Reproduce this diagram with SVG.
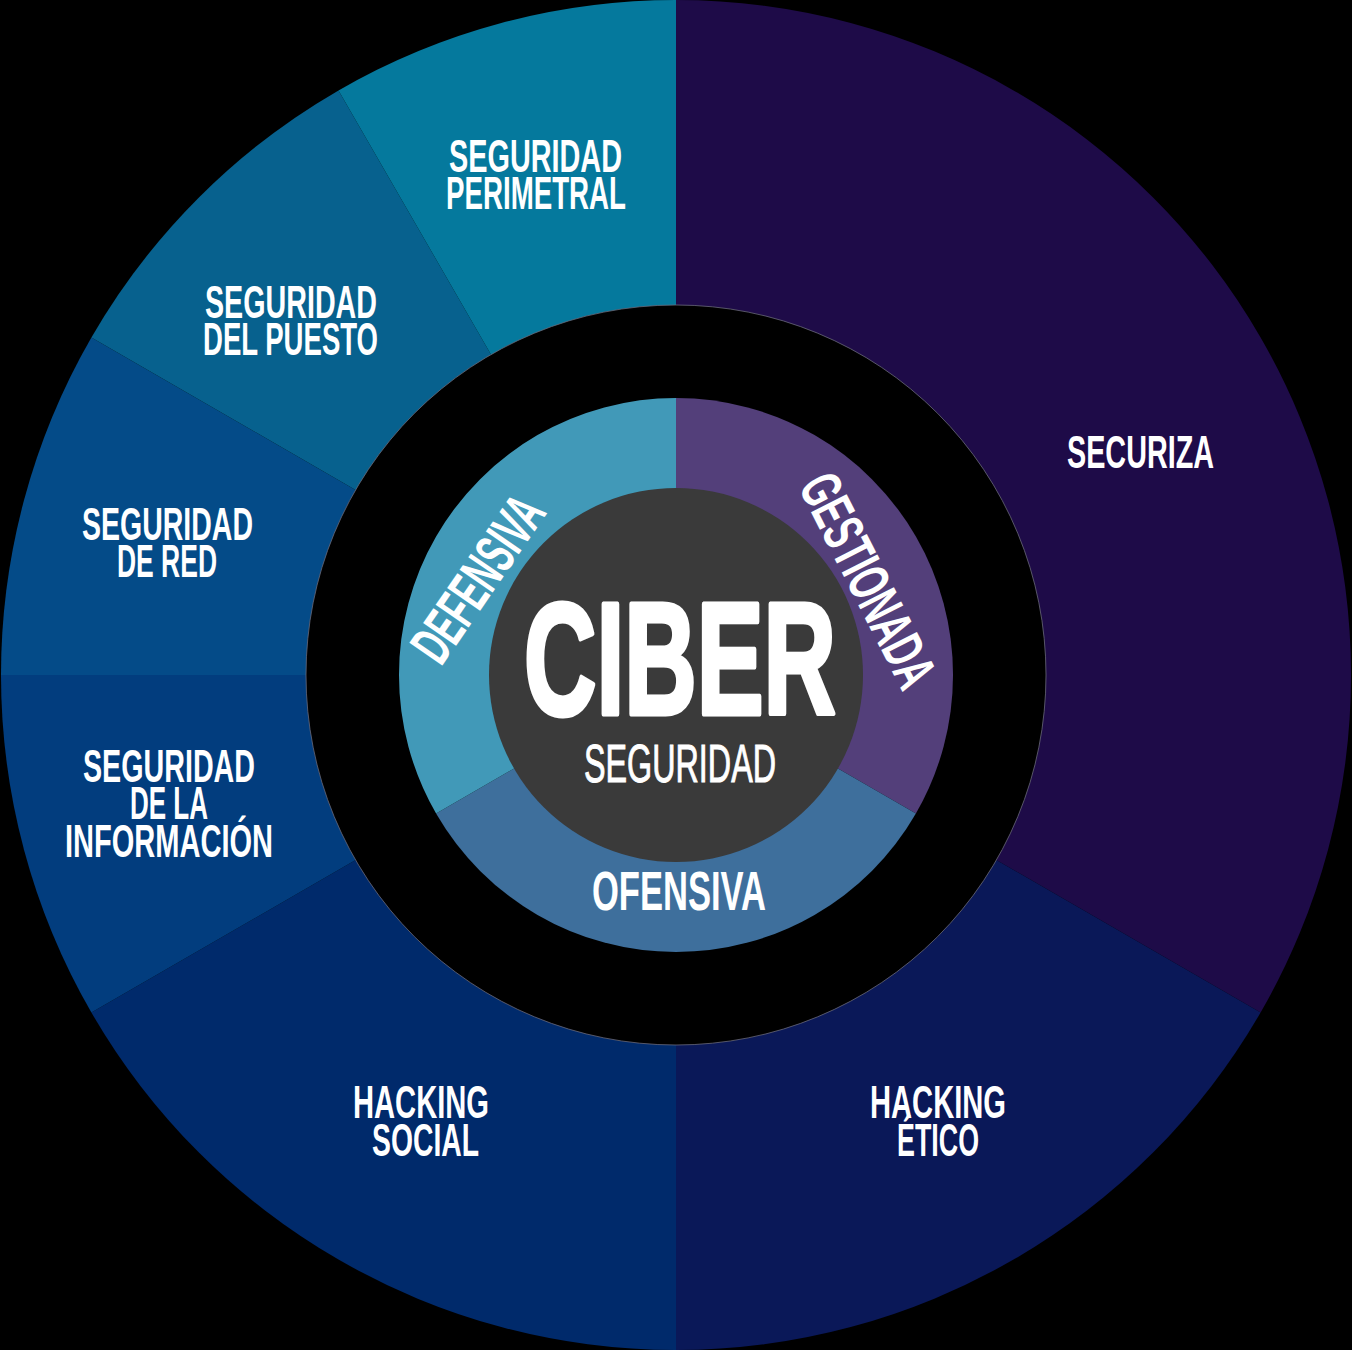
<svg xmlns="http://www.w3.org/2000/svg" width="1352" height="1350" viewBox="0 0 1352 1350">
<style>
.lbl{font-family:"Liberation Sans",Arial,sans-serif;font-weight:bold;font-size:46px;fill:#fff;text-anchor:middle}
.mid{font-family:"Liberation Sans",Arial,sans-serif;font-weight:bold;fill:#fff;text-anchor:middle}
</style>
<rect x="0" y="0" width="1352" height="1350" fill="#000"/>
<g id="securiza">
<path d="M676,675 L676,0 A675,675 0 0 1 1260.6,1012.5 Z" fill="#1e0b48"/>
<text class="lbl" x="1140.5" y="468" textLength="147" lengthAdjust="spacingAndGlyphs">SECURIZA</text>
</g>
<g id="hacking-etico">
<path d="M676,675 L1260.6,1012.5 A675,675 0 0 1 676,1350 Z" fill="#0a1858"/>
<text class="lbl"><tspan x="938" y="1118" textLength="136" lengthAdjust="spacingAndGlyphs">HACKING</tspan><tspan x="938" y="1156" textLength="82" lengthAdjust="spacingAndGlyphs">ÉTICO</tspan></text>
</g>
<g id="hacking-social">
<path d="M676,675 L676,1350 A675,675 0 0 1 91.4,1012.5 Z" fill="#002a6b"/>
<text class="lbl"><tspan x="421" y="1118" textLength="136" lengthAdjust="spacingAndGlyphs">HACKING</tspan><tspan x="425.5" y="1156" textLength="107" lengthAdjust="spacingAndGlyphs">SOCIAL</tspan></text>
</g>
<g id="seg-informacion">
<path d="M676,675 L91.4,1012.5 A675,675 0 0 1 1,675 Z" fill="#023d7e"/>
<text class="lbl"><tspan x="169" y="782" textLength="172" lengthAdjust="spacingAndGlyphs">SEGURIDAD</tspan><tspan x="169" y="819" textLength="78" lengthAdjust="spacingAndGlyphs">DE LA</tspan><tspan x="169" y="857" textLength="208" lengthAdjust="spacingAndGlyphs">INFORMACIÓN</tspan></text>
</g>
<g id="seg-red">
<path d="M676,675 L1,675 A675,675 0 0 1 91.4,337.5 Z" fill="#044b88"/>
<text class="lbl"><tspan x="167.5" y="540" textLength="171" lengthAdjust="spacingAndGlyphs">SEGURIDAD</tspan><tspan x="167" y="577" textLength="100" lengthAdjust="spacingAndGlyphs">DE RED</tspan></text>
</g>
<g id="seg-puesto">
<path d="M676,675 L91.4,337.5 A675,675 0 0 1 338.5,90.4 Z" fill="#07618e"/>
<text class="lbl"><tspan x="291" y="318" textLength="172" lengthAdjust="spacingAndGlyphs">SEGURIDAD</tspan><tspan x="290.5" y="355" textLength="175" lengthAdjust="spacingAndGlyphs">DEL PUESTO</tspan></text>
</g>
<g id="seg-perimetral">
<path d="M676,675 L338.5,90.4 A675,675 0 0 1 676,0 Z" fill="#05799d"/>
<text class="lbl"><tspan x="535.5" y="172" textLength="173" lengthAdjust="spacingAndGlyphs">SEGURIDAD</tspan><tspan x="536" y="209" textLength="180" lengthAdjust="spacingAndGlyphs">PERIMETRAL</tspan></text>
</g>
<circle cx="676" cy="675" r="370" fill="#000" stroke="#6a6a7a" stroke-width="0.8"/>
<g id="gestionada">
<path d="M676,675 L676,398 A277,277 0 0 1 915.9,813.5 Z" fill="#533f7a"/>
<text class="mid" font-size="58" transform="translate(869,580) rotate(63)" x="0" y="21" textLength="232" lengthAdjust="spacingAndGlyphs">GESTIONADA</text>
</g>
<g id="ofensiva">
<path d="M676,675 L915.9,813.5 A277,277 0 0 1 436.1,813.5 Z" fill="#3e6f9c"/>
<text class="mid" font-size="56" x="679" y="910" textLength="174" lengthAdjust="spacingAndGlyphs">OFENSIVA</text>
</g>
<g id="defensiva">
<path d="M676,675 L436.1,813.5 A277,277 0 0 1 676,398 Z" fill="#4199b8"/>
<text class="mid" font-size="58" transform="translate(477,578) rotate(-55.5)" x="0" y="21" textLength="188" lengthAdjust="spacingAndGlyphs">DEFENSIVA</text>
</g>
<g id="ciber">
<circle cx="676" cy="675" r="187" fill="#3a3a3a"/>
<text class="mid" font-size="160" x="680" y="714" textLength="312" lengthAdjust="spacingAndGlyphs" stroke="#fff" stroke-width="5" stroke-linejoin="round">CIBER</text>
<text class="mid" font-size="53" style="font-weight:normal" x="680" y="782" textLength="192" lengthAdjust="spacingAndGlyphs" stroke="#fff" stroke-width="1">SEGURIDAD</text>
</g>
</svg>
